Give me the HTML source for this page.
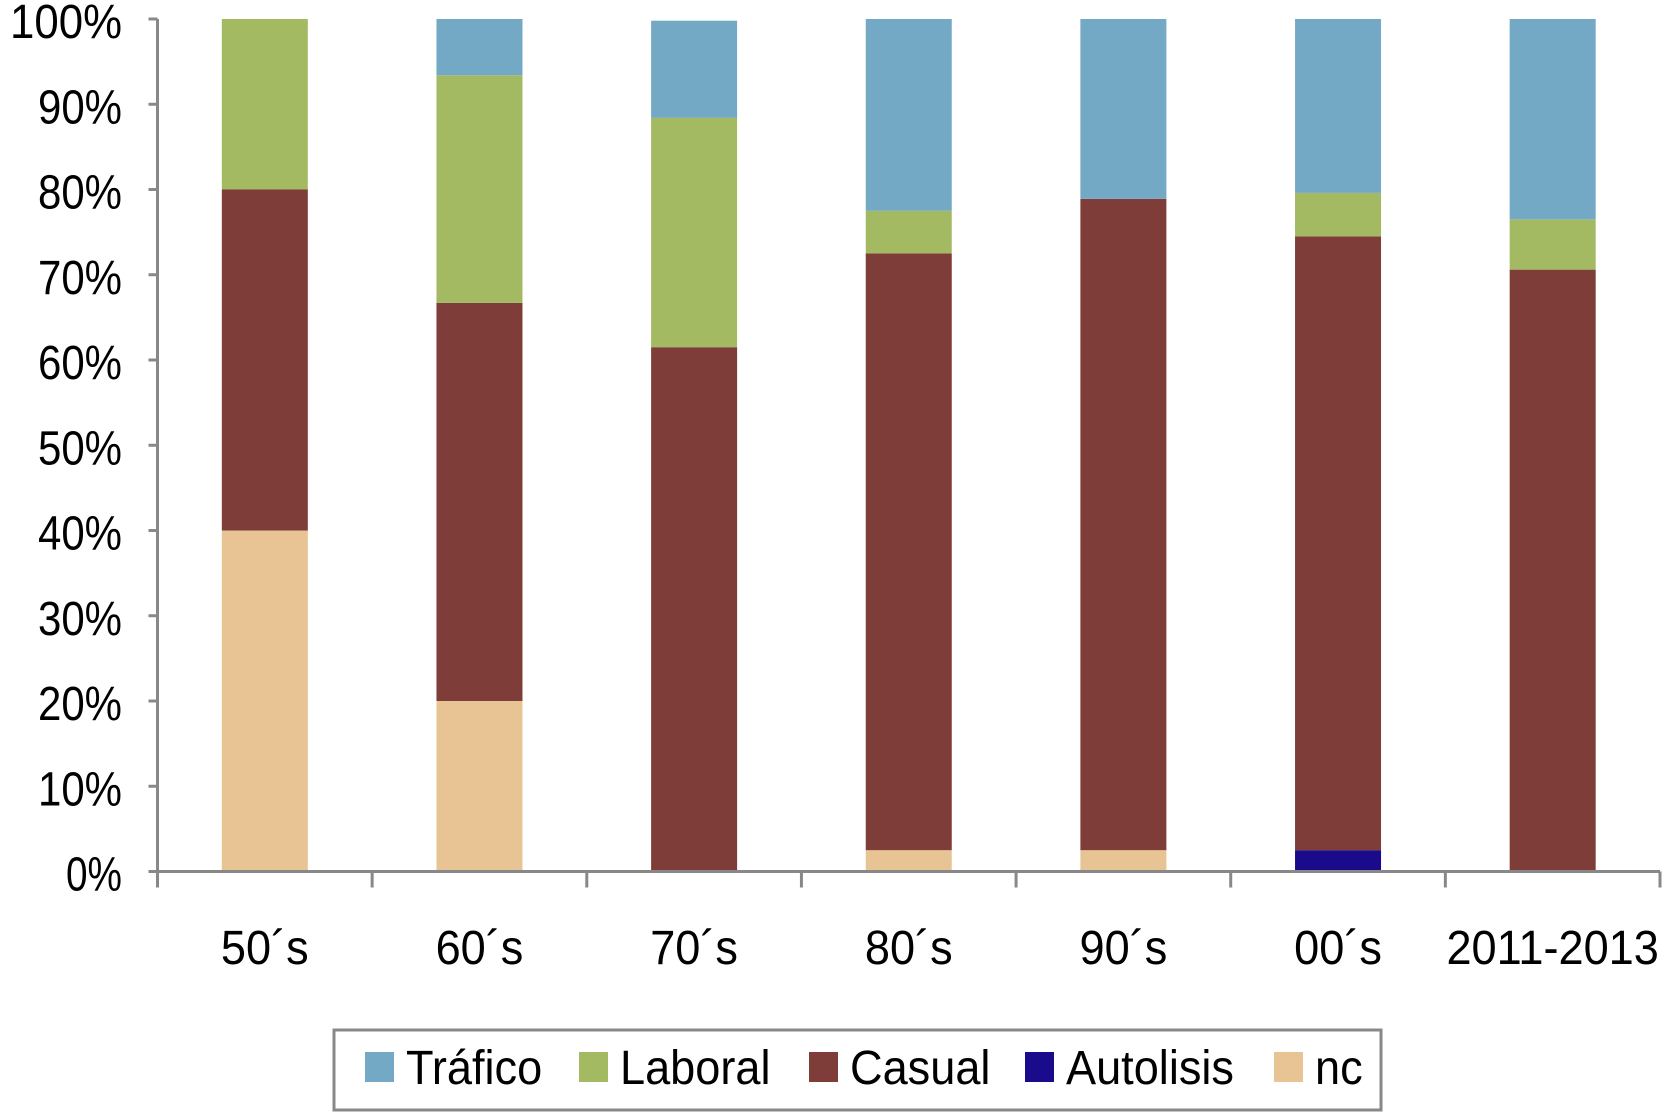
<!DOCTYPE html>
<html><head><meta charset="utf-8"><style>
html,body{margin:0;padding:0;background:#fff;}
svg{display:block;font-family:"Liberation Sans",sans-serif;}
</style></head><body>
<svg id="chart" width="1668" height="1112" viewBox="0 0 1668 1112"></svg>
<script>
const categories = ["50´s","60´s","70´s","80´s","90´s","00´s","2011-2013"];
const seriesNames = ["nc","Autolisis","Casual","Laboral","Tráfico"];
const ncVals = [40,20,0,2.5,2.5,0,0];
const autolisisVals = [0,0,0,0,0,2.5,0];
const casualVals = [40,46.7,61.5,70,76.4,72,70.6];
const laboralVals = [20,26.7,26.9,5,0,5.1,5.9];
const traficoVals = [0,6.6,11.4,22.5,21.1,20.4,23.5];
const yTicks = [0,10,20,30,40,50,60,70,80,90,100];
const yTickLabels = ["0%","10%","20%","30%","40%","50%","60%","70%","80%","90%","100%"];
const colors = {"nc":"#E8C494","Autolisis":"#1A0A8C","Casual":"#7E3D38","Laboral":"#A3BA62","Tráfico":"#74A9C6"};
const seriesVals = {"nc":ncVals,"Autolisis":autolisisVals,"Casual":casualVals,"Laboral":laboralVals,"Tráfico":traficoVals};

const NS="http://www.w3.org/2000/svg";
const svg=document.getElementById('chart');
const X0=157.5, X1=1660, Y0=871.5, Y1=19;
const catW=(X1-X0)/categories.length, barW=86;
const y=v=>Y0-(Y0-Y1)*v/100;
const xc=i=>X0+catW*(i+0.5);
function mk(tag,attrs){const e=document.createElementNS(NS,tag);for(const k in attrs)e.setAttribute(k,attrs[k]);svg.appendChild(e);return e;}

categories.forEach((c,i)=>{
  let base=0;
  seriesNames.forEach(s=>{
    const v=seriesVals[s][i];
    if(v>0){
      const r=mk('rect',{x:xc(i)-barW/2,y:y(base+v),width:barW,height:y(base)-y(base+v),fill:colors[s]});
      
      
    }
    base+=v;
  });
});
const ya=mk('line',{x1:X0,y1:Y1,x2:X0,y2:Y0,stroke:'#888',"stroke-width":3});


const xa=mk('line',{x1:X0,y1:Y0,x2:X1,y2:Y0,stroke:'#888',"stroke-width":3});


yTicks.forEach((t,i)=>{
  mk('line',{x1:X0-9,y1:y(t),x2:X0,y2:y(t),stroke:'#888',"stroke-width":3});
  const tx=mk('text',{x:122,y:y(t)+19,"text-anchor":"end","font-size":48,"textLength":yTickLabels[i].length*28,"lengthAdjust":"spacingAndGlyphs",fill:'#000'});
  tx.textContent=yTickLabels[i];
  
  
});
for(let i=0;i<=categories.length;i++){
  mk('line',{x1:X0+catW*i,y1:Y0,x2:X0+catW*i,y2:Y0+16,stroke:'#888',"stroke-width":3});
}
categories.forEach((c,i)=>{
  const tx=mk('text',{x:xc(i),y:964,"text-anchor":"middle","font-size":48,fill:'#000',transform:`translate(${xc(i)*0.06},0) scale(0.94,1)`});
  tx.textContent=c;
  
  
});
const lb=mk('rect',{x:334,y:1030,width:1047,height:80,fill:'none',stroke:'#888',"stroke-width":3});


const legOrder=["Tráfico","Laboral","Casual","Autolisis","nc"];
const sqX=[365,579,809,1025,1274];
legOrder.forEach((s,i)=>{
  const r=mk('rect',{x:sqX[i],y:1052,width:29,height:30,fill:colors[s]});
  
  
  const t=mk('text',{x:(sqX[i]+41)/0.94,y:1084,"font-size":48,fill:'#000',transform:'scale(0.94,1)'});
  t.textContent=s;
  
  
});
</script>
</body></html>
